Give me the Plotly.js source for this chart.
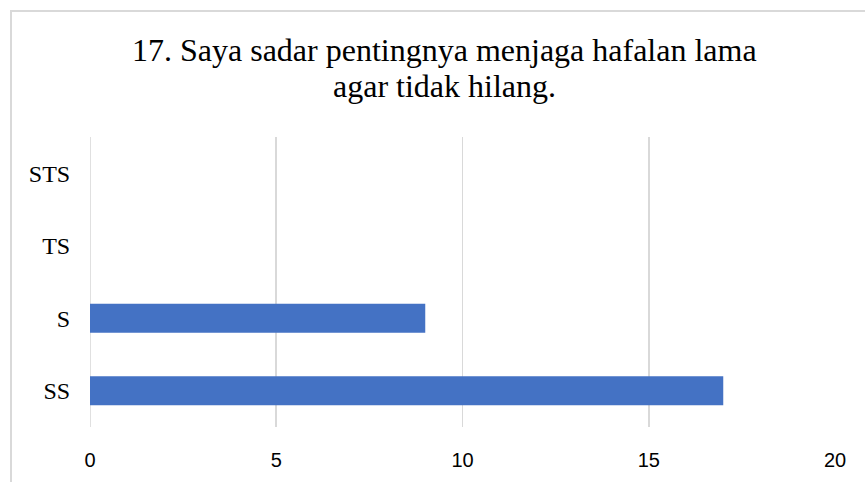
<!DOCTYPE html>
<html>
<head>
<meta charset="utf-8">
<script src="https://cdn.plot.ly/plotly-3.0.1.min.js"></script>
<style>
html, body { margin: 0; padding: 0; width: 865px; height: 482px; overflow: hidden; background: #fff; }
#frame { position: absolute; left: 10px; top: 10px; width: 1000px; height: 1000px; border: 2px solid #d9d9d9; box-sizing: border-box; }
#chart { position: absolute; left: 0; top: 0; width: 865px; height: 482px; }
</style>
</head>
<body>
<div id="frame"></div>
<div id="chart"></div>
<script>
var categories = ['SS', 'S', 'TS', 'STS'];
var counts = [17, 9, 0, 0];
var xTicks = [0, 5, 10, 15, 20];
var titleLines = ['17. Saya sadar pentingnya menjaga hafalan lama', 'agar tidak hilang.'];

var trace = {
  type: 'bar',
  orientation: 'h',
  y: categories,
  x: counts,
  marker: { color: '#4472C4' },
  hoverinfo: 'x+y'
};

var plotTop = 137, plotBottom = 427, plotLeft = 90, plotRight = 835;
function py(p) { return (plotBottom - p) / (plotBottom - plotTop); }
function px(p) { return (p - plotLeft) / (plotRight - plotLeft); }

var titleFont = { family: 'Liberation Serif, Times New Roman, serif', size: 32, color: '#000' };

var layout = {
  width: 865,
  height: 482,
  margin: { l: plotLeft, r: 865 - plotRight, t: plotTop, b: 482 - plotBottom },
  paper_bgcolor: 'rgba(0,0,0,0)',
  plot_bgcolor: 'rgba(0,0,0,0)',
  showlegend: false,
  bargap: 0.6,
  xaxis: {
    range: [0, 20],
    tickvals: xTicks,
    ticktext: xTicks.map(String),
    showgrid: true,
    gridcolor: '#d9d9d9',
    gridwidth: 1.6,
    zeroline: false,
    showline: false,
    ticks: 'outside',
    ticklen: 15,
    tickcolor: 'rgba(0,0,0,0)',
    tickfont: { family: 'Liberation Sans, Arial, sans-serif', size: 20, color: '#000' },
    fixedrange: true
  },
  yaxis: {
    type: 'category',
    categoryorder: 'array',
    categoryarray: categories,
    showgrid: false,
    zeroline: false,
    showline: false,
    ticks: 'outside',
    ticklen: 14,
    tickcolor: 'rgba(0,0,0,0)',
    tickfont: { family: 'Liberation Serif, Times New Roman, serif', size: 24, color: '#000' },
    fixedrange: true
  },
  annotations: [
    { text: titleLines[0], xref: 'paper', yref: 'paper', x: px(444), y: py(50),
      xanchor: 'center', yanchor: 'middle', showarrow: false, font: titleFont },
    { text: titleLines[1], xref: 'paper', yref: 'paper', x: px(444), y: py(86),
      xanchor: 'center', yanchor: 'middle', showarrow: false, font: titleFont }
  ],
  shapes: [{
    type: 'line', xref: 'x', yref: 'paper',
    x0: 0, x1: 0, y0: 0, y1: 1,
    line: { color: '#d9d9d9', width: 1.6 },
    layer: 'below'
  }]
};

Plotly.newPlot('chart', [trace], layout, { displayModeBar: false, staticPlot: true });
</script>
</body>
</html>
